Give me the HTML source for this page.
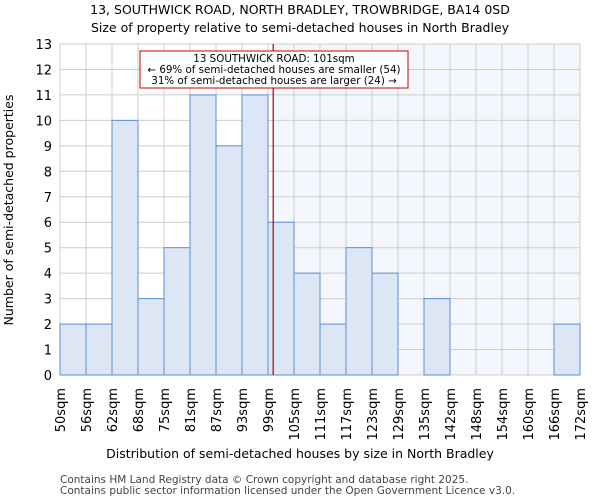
<!DOCTYPE html>
<html><head><meta charset="utf-8"><style>
body{margin:0;background:#fff;font-family:"DejaVu Sans","Liberation Sans",sans-serif}
</style></head><body>
<svg width="600" height="500" xmlns="http://www.w3.org/2000/svg" font-family="DejaVu Sans, Liberation Sans, sans-serif">
<text x="300" y="14" text-anchor="middle" font-size="12.5">13, SOUTHWICK ROAD, NORTH BRADLEY, TROWBRIDGE, BA14 0SD</text>
<text x="300" y="32" text-anchor="middle" font-size="12.5">Size of property relative to semi-detached houses in North Bradley</text>
<g id="plot"></g>
<text x="300" y="458" text-anchor="middle" font-size="12.5">Distribution of semi-detached houses by size in North Bradley</text>
<text transform="translate(13,210) rotate(-90)" text-anchor="middle" font-size="12.5">Number of semi-detached properties</text>
<text x="60" y="483" font-size="10.5" fill="#444">Contains HM Land Registry data © Crown copyright and database right 2025.</text>
<text x="60" y="494" font-size="10.5" fill="#444">Contains public sector information licensed under the Open Government Licence v3.0.</text>
</svg>
<script>
const binLabels=["50sqm","56sqm","62sqm","68sqm","75sqm","81sqm","87sqm","93sqm","99sqm","105sqm","111sqm","117sqm","123sqm","129sqm","135sqm","142sqm","148sqm","154sqm","160sqm","166sqm","172sqm"];
const counts=[2,2,10,3,5,11,9,11,6,4,2,5,4,0,3,0,0,0,0,2];
const yTicks=[0,1,2,3,4,5,6,7,8,9,10,11,12,13];
const markerBin=8.2;
const ns="http://www.w3.org/2000/svg";
const g=document.getElementById('plot');
const L=60,R=580,T=44,B=375,yMax=13;
const bw=(R-L)/counts.length;
const xs=i=>L+i*bw;
const ys=v=>B-(v/yMax)*(B-T);
function mk(t,a){const e=document.createElementNS(ns,t);for(const k in a)e.setAttribute(k,a[k]);g.appendChild(e);return e;}
const mx=xs(markerBin);
let e=mk('rect',{x:mx,y:T,width:R-mx,height:B-T,fill:'#f3f6fd'});


yTicks.forEach(v=>{
  let l=mk('line',{x1:L,x2:R,y1:ys(v),y2:ys(v),stroke:'#cccccc','stroke-width':1});
  
  
  let t=mk('text',{x:L-8,y:ys(v)+5,'text-anchor':'end','font-size':'13'});
  t.textContent=v;
  
  
});
binLabels.forEach((s,i)=>{
  let l=mk('line',{x1:xs(i),x2:xs(i),y1:T,y2:B,stroke:'#cccccc','stroke-width':1});
  
  
  let t=mk('text',{transform:`translate(${xs(i)+5},388) rotate(-90)`,'text-anchor':'end','font-size':'13'});
  t.textContent=s;
  
  
});
counts.forEach((v,i)=>{
  if(v<=0)return;
  let r=mk('rect',{x:xs(i),y:ys(v),width:bw,height:B-ys(v),fill:'#dce6f4',stroke:'#5a8fd6','stroke-width':1});
  
  
});
e=mk('line',{x1:mx,x2:mx,y1:T,y2:B,stroke:'#b00000','stroke-width':1.2});


e=mk('rect',{x:140,y:51,width:268,height:37,fill:'#fff',stroke:'#cc0000','stroke-width':1});


["13 SOUTHWICK ROAD: 101sqm","← 69% of semi-detached houses are smaller (54)","31% of semi-detached houses are larger (24) →"].forEach((s,i)=>{
  let t=mk('text',{x:274,y:62+i*11,'text-anchor':'middle','font-size':'10.3'});
  t.textContent=s;
  
  
});
</script>
</body></html>
